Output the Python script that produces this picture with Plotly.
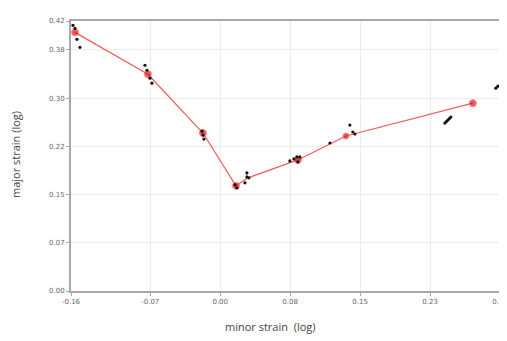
import plotly.graph_objects as go

# measured points (black)
meas_x = [-0.1579, -0.1557, -0.1536, -0.1504,
          -0.0807, -0.0785, -0.0753, -0.0732,
          -0.0196, -0.0185, -0.0175,
          0.0158, 0.0179, 0.0265, 0.0286, 0.0286, 0.0308,
          0.0747, 0.0790, 0.0822, 0.0833, 0.0854, 0.1176,
          0.1390, 0.1422, 0.1444,
          0.2409, 0.2425, 0.2441, 0.2457, 0.2473, 0.2955, 0.2977]
meas_y = [0.4132, 0.4085, 0.3915, 0.3791,
          0.3512, 0.3434, 0.3310, 0.3233,
          0.2488, 0.2426, 0.2364,
          0.1651, 0.1605, 0.1682, 0.1775, 0.1837, 0.1760,
          0.2023, 0.2054, 0.2085, 0.2008, 0.2085, 0.2302,
          0.2581, 0.2473, 0.2442,
          0.2612, 0.2636, 0.2659, 0.2682, 0.2705, 0.3155, 0.3186]

# forming limit curve (red)
flc_x = [-0.1557, -0.0775, -0.0185, 0.0169, 0.0297, 0.0833, 0.1348, 0.2709]
flc_y = [0.4023, 0.3372, 0.2457, 0.1636, 0.1760, 0.2039, 0.2411, 0.2922]
flc_marker = [7, 7, 7, 7, 0, 7, 6, 7]

x_tick_vals = [-0.16, -0.075, 0.0, 0.075, 0.15, 0.225, 0.30]
x_tick_text = ["-0.16", "-0.07", "0.00", "0.08", "0.15", "0.23", "0.30"]
y_tick_vals = [0.0, 0.075, 0.15, 0.225, 0.30, 0.375, 0.42]
y_tick_text = ["0.00", "0.07", "0.15", "0.22", "0.30", "0.38", "0.42"]

fig = go.Figure()
fig.add_trace(go.Scatter(x=flc_x, y=flc_y, mode="lines+markers",
                         line=dict(color="#f25a5a", width=1.2),
                         marker=dict(color="#e8101a", size=flc_marker, symbol="circle"),
                         hoverinfo="skip"))
fig.add_trace(go.Scatter(x=meas_x, y=meas_y, mode="markers",
                         marker=dict(color="#111111", size=3.2),
                         hoverinfo="skip"))

axis_common = dict(showline=True, linecolor="#a8a8a8", mirror=True, linewidth=2,
                   showgrid=True, gridcolor="#ececec", gridwidth=1,
                   zeroline=False, ticks="outside", ticklen=3, tickcolor="#a8a8a8",
                   automargin=False, ticklabeloverflow="allow",
                   tickfont=dict(family="DejaVu Sans", size=7, color="#666666"))

fig.update_layout(
    width=499, height=333,
    margin=dict(l=63, r=7, t=13, b=50),
    paper_bgcolor="white", plot_bgcolor="white",
    showlegend=False,
    xaxis=dict(range=[-0.16, 0.30], tickvals=x_tick_vals, ticktext=x_tick_text,
               **axis_common),
    yaxis=dict(range=[0.0, 0.42], tickvals=y_tick_vals, ticktext=y_tick_text,
               **axis_common),
    annotations=[
        dict(text="minor strain  (log)", xref="paper", yref="paper", x=0.464, y=-0.13,
             xanchor="center", yanchor="middle", showarrow=False,
             font=dict(family="Open Sans", size=11, color="#444444")),
        dict(text="major strain (log)", xref="paper", yref="paper", x=-0.128, y=0.504,
             xanchor="center", yanchor="middle", showarrow=False, textangle=-90,
             font=dict(family="Open Sans", size=11, color="#444444")),
    ],
)

fig.write_html("out.html")
